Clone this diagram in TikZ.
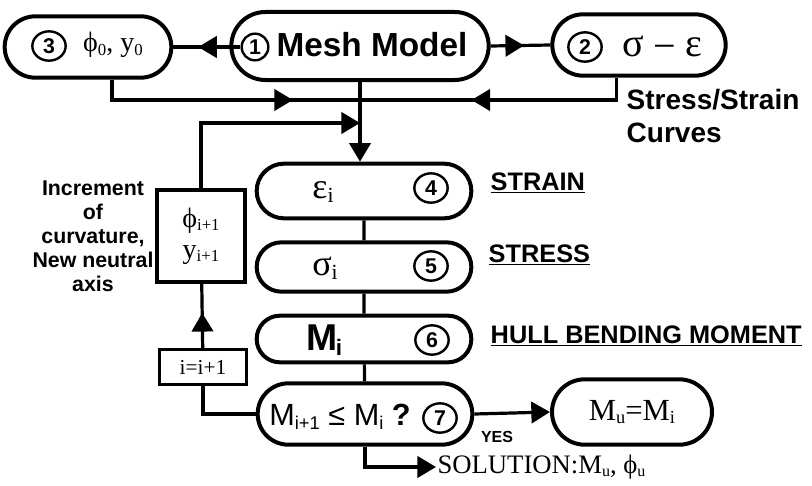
\documentclass[tikz,border=0pt]{standalone}
\usepackage{fontspec}
\usepackage{graphicx}
\setmainfont{Liberation Serif}
\setsansfont{Liberation Sans}
\usetikzlibrary{shapes.misc,shapes.geometric,arrows.meta,decorations.markings}
\newcommand{\dn}[1]{\raisebox{-0.12em}{\scalebox{0.6}{#1}}}
\newcommand{\fs}[1]{\fontsize{#1}{#1}\selectfont}
\begin{document}
\begin{tikzpicture}[x=0.75pt,y=-0.75pt,>={Triangle[length=14pt,width=16pt]},
	pill/.style={rounded rectangle,draw,line width=3pt,inner sep=0pt},
	num/.style={ellipse,draw,line width=1.8pt,minimum width=25pt,minimum height=22pt,inner sep=0pt,font=\sffamily\bfseries\fs{16}},
	sq/.style={rectangle,draw,line width=3.2pt,inner sep=0pt},
	conn/.style={line width=2.4pt},
	midarr/.style={postaction={decorate},decoration={markings,mark=at position #1 with {\arrow{>}}}},
	lbl/.style={anchor=west,font=\sffamily\bfseries\fs{19}}]
		\useasboundingbox (0,0) rectangle (812,485);
		\node[pill,minimum width=193pt,minimum height=51pt] (mesh) at (360,46) {};
		\node[num,minimum width=20pt,minimum height=20pt] (c1) at (255,47) {1};
		\node[font=\sffamily\bfseries\fs{25}] at (372,45) {Mesh Model};
		\node[pill,minimum width=125pt,minimum height=46pt] (init) at (88,47) {};
		\node[num] (c3) at (49,46) {3};
		\node[font=\fs{21}] at (113,45) {ϕ\dn{0}, y\dn{0}};
		\node[pill,minimum width=130pt,minimum height=46pt] (curve) at (639,45) {};
		\node[num] (c2) at (585,47) {2};
		\node[font=\fs{30}] at (662,48) {σ\hspace{7pt}\raisebox{-2pt}{−}\hspace{7pt}ε};
		\node[font=\sffamily\bfseries\fontsize{21}{25}\selectfont,anchor=north west,align=left] (sscurve) at (622,84) {Stress/Strain\\Curves};
		\coordinate (join) at (360,100);
		\coordinate (back) at (360,123);
		\node[pill,minimum width=161pt,minimum height=41pt] (strain) at (364,191) {};
		\node[font=\fs{27}] at (323,192) {ε\dn{i}};
		\node[num] (c4) at (431,188) {4};
		\node[lbl] at (486,183) {\underline{STRAIN}};
		\node[pill,minimum width=161pt,minimum height=37pt] (stress) at (364,267) {};
		\node[font=\fs{27}] at (325,268) {σ\dn{i}};
		\node[num] (c5) at (431,266) {5};
		\node[lbl] at (484,255) {\underline{STRESS}};
		\node[pill,minimum width=161pt,minimum height=35pt] (moment) at (364,339) {};
		\node[font=\sffamily\bfseries\fs{28}] at (324,340) {M\kern-1pt\dn{i}};
		\node[num] (c6) at (432,340) {6};
		\node[lbl] at (486,336) {\underline{HULL BENDING MOMENT}};
		\node[pill,minimum width=161pt,minimum height=46pt] (check) at (365,414) {};
		\node[font=\sffamily\fs{23}] at (340,417) {M\dn{i+1} ≤ M\dn{i} \textbf{?}};
		\node[num] (c7) at (440,418) {7};
		\node[pill,minimum width=120pt,minimum height=49pt,font=\fs{23}] (ult) at (632,412) {M\dn{u}=M\dn{i}};
		\node[font=\sffamily\bfseries\fs{12}] (yes) at (497,437) {YES};
		\node[anchor=west,inner sep=1pt,font=\fs{20}] (sol) at (436,467) {SOLUTION:M\dn{u}, ϕ\dn{u}};
		\node[sq,minimum width=66pt,minimum height=69pt,align=center,font=\fontsize{21}{23}\selectfont] (phi) at (201,236) {ϕ\dn{i+1}\\y\dn{i+1}};
		\node[sq,line width=2.4pt,minimum width=65pt,minimum height=26pt,font=\fs{16}] (inc) at (203,367) {i=i+1};
		\node[font=\sffamily\bfseries\fontsize{16}{18}\selectfont,align=center] (note) at (93,236) {Increment\\of\\curvature,\\New neutral\\axis};
		\draw[conn,midarr=0.63] (c1.west) -- (init.east);
		\draw[conn,midarr=0.56] (mesh.east) -- (curve.west);
		\draw[conn,midarr=0.75] ([xshift=18pt]init.south) |- (join);
		\draw[conn,midarr=0.6] ([xshift=-17pt]curve.south) |- (join);
		\draw[conn,->] (mesh.south) -- (mesh.south |- strain.north);
		\draw[conn,->] (phi.north) |- (back);
		\draw[conn] (strain) -- (stress) (stress) -- (moment) (moment) -- (check);
		\draw[conn,midarr=0.55] (inc) -- (phi);
		\draw[conn] (check.west) -| (inc.south);
		\draw[conn,->] (check.east) -- (ult.west);
		\draw[conn,->] (check.south) |- (sol.west);
		\end{tikzpicture}
\end{document}
